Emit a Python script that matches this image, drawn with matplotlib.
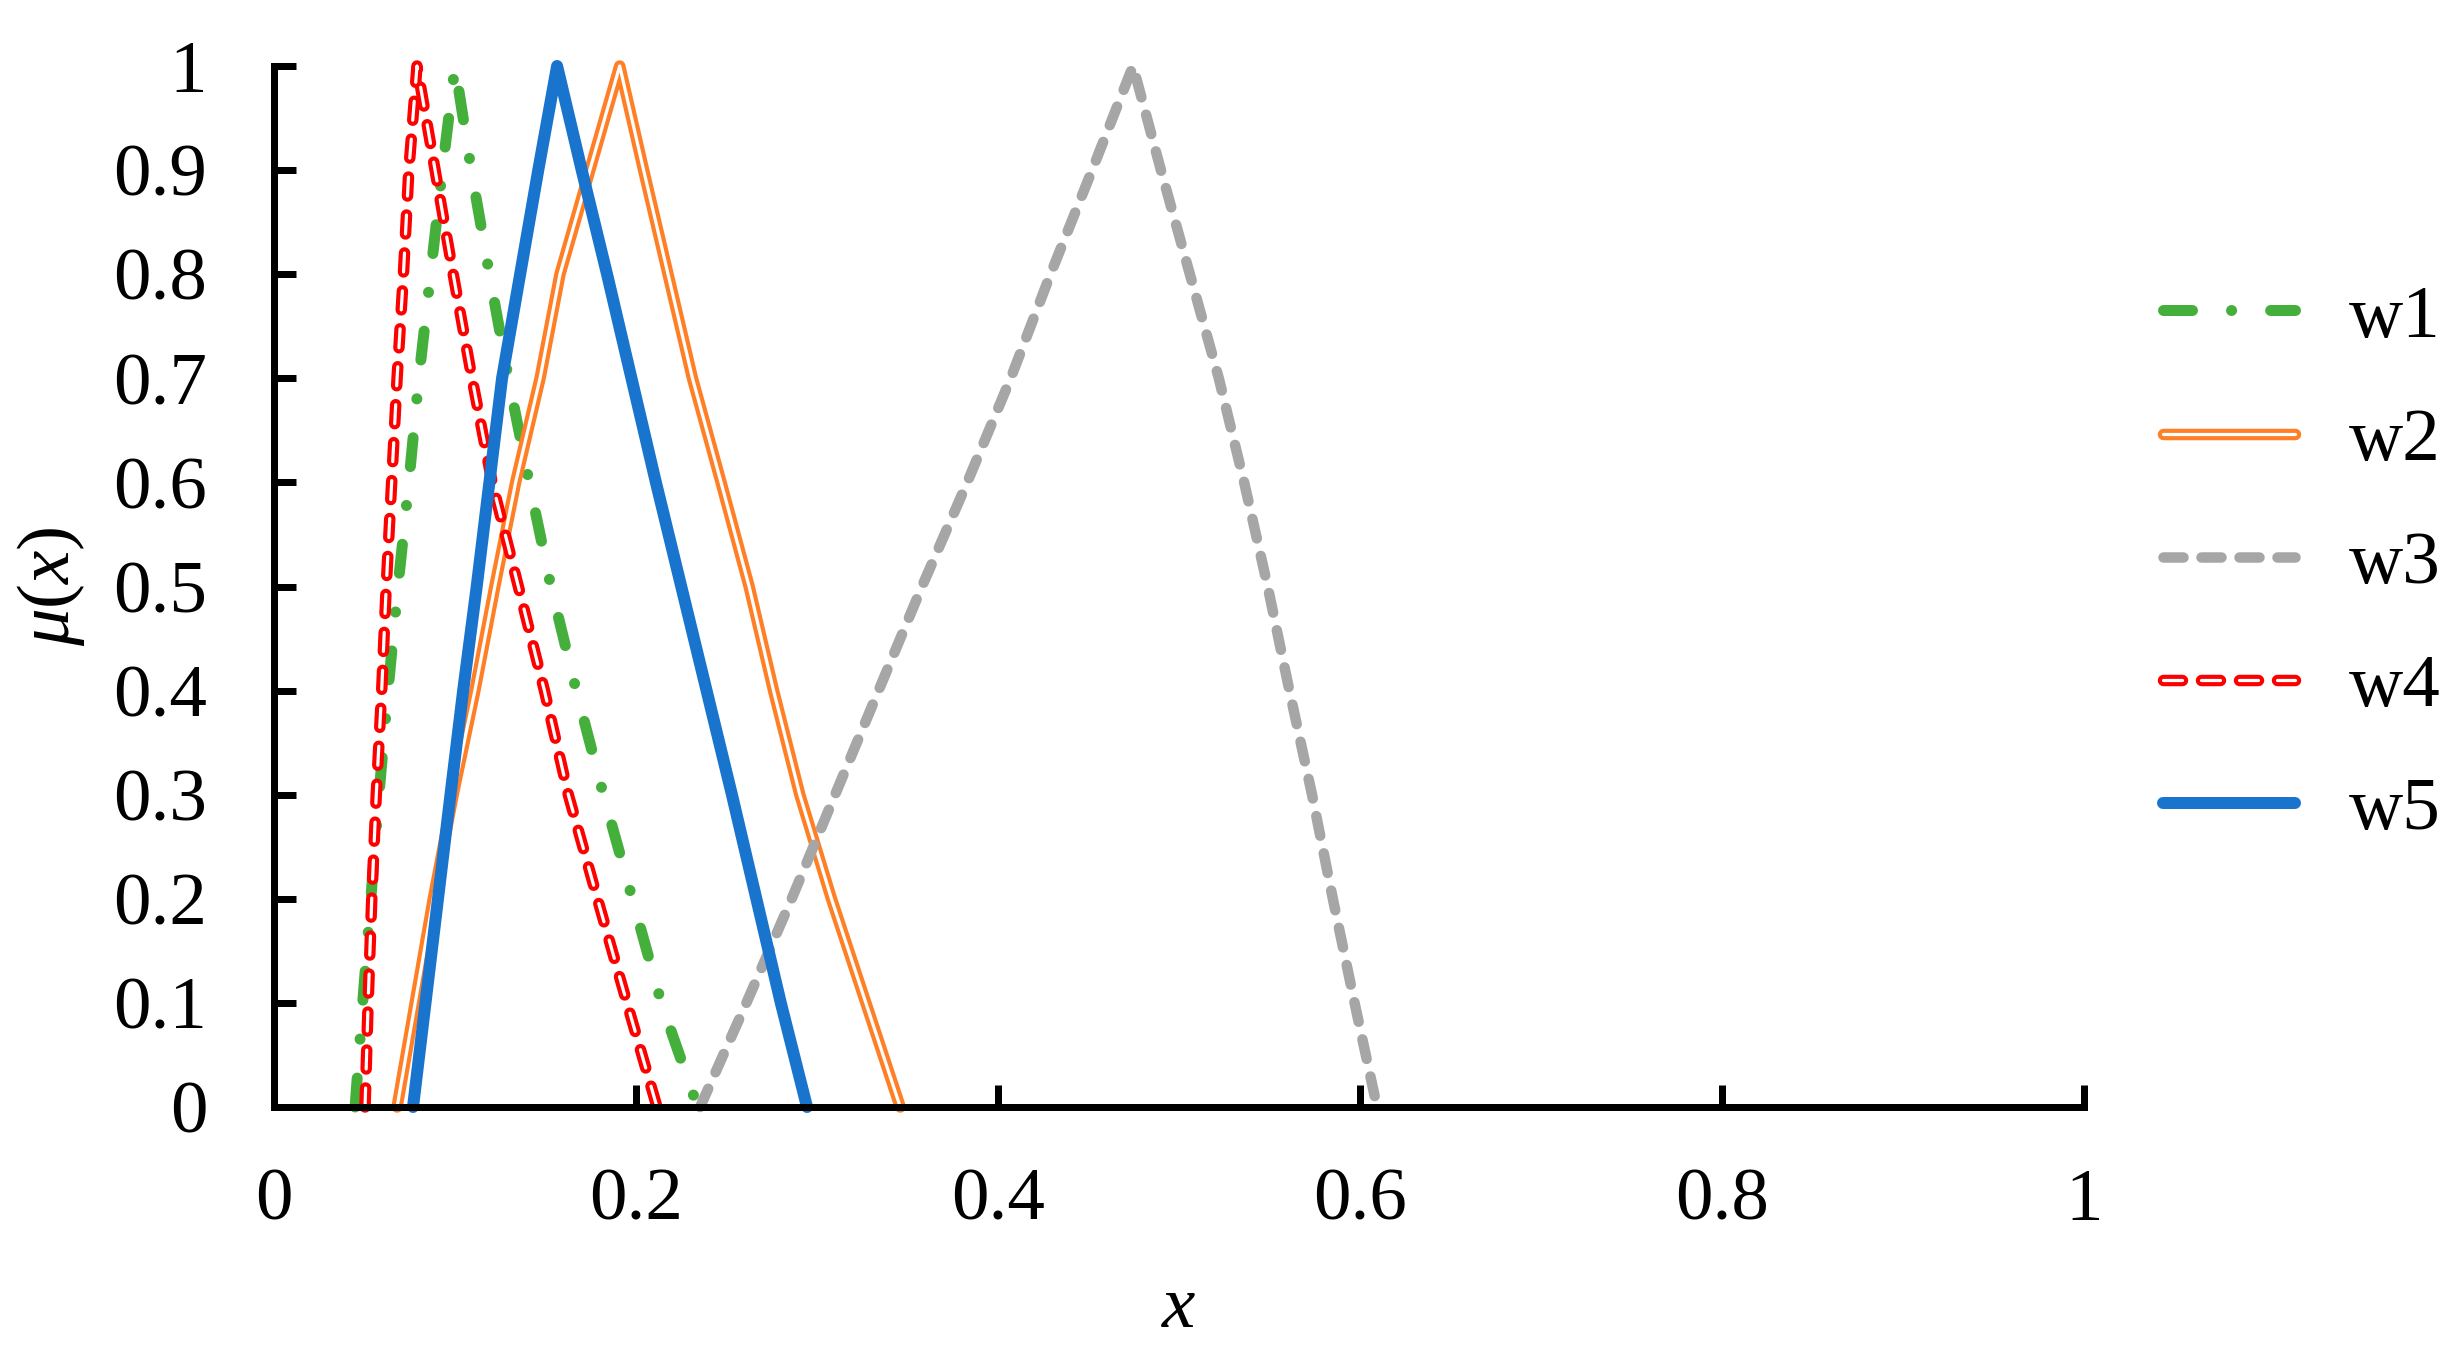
import matplotlib
matplotlib.use('Agg')
import matplotlib.pyplot as plt
from matplotlib.legend_handler import HandlerTuple

plt.rcParams['font.family'] = ['Liberation Serif', 'DejaVu Serif']
plt.rcParams['mathtext.fontset'] = 'custom'
plt.rcParams['mathtext.rm'] = 'Liberation Serif'
plt.rcParams['mathtext.it'] = 'Liberation Serif:italic'
plt.rcParams['lines.scale_dashes'] = False

# membership levels (alpha cuts), left side ascending then right side descending
mu = [0.0, 0.1, 0.2, 0.3, 0.4, 0.5, 0.6, 0.7, 0.8, 0.9, 1.0,
      0.9, 0.8, 0.7, 0.6, 0.5, 0.4, 0.3, 0.2, 0.1, 0.0]

x_w1 = [0.0448, 0.049, 0.0535, 0.058, 0.063, 0.0685, 0.0745, 0.080, 0.0865, 0.093, 0.100,
        0.109, 0.119, 0.1295, 0.141, 0.153, 0.167, 0.182, 0.198, 0.214, 0.234]
x_w2 = [0.068, 0.078, 0.088, 0.099, 0.111, 0.122, 0.1335, 0.147, 0.158, 0.1745, 0.191,
        0.2042, 0.2177, 0.2312, 0.247, 0.2625, 0.276, 0.2905, 0.308, 0.327, 0.346]
x_w3 = [0.2354, 0.261, 0.286, 0.310, 0.334, 0.358, 0.383, 0.407, 0.429, 0.452, 0.4746,
        0.490, 0.506, 0.522, 0.536, 0.549, 0.561, 0.5735, 0.585, 0.597, 0.6094]
x_w4 = [0.0503, 0.052, 0.054, 0.0565, 0.0595, 0.062, 0.065, 0.068, 0.0715, 0.0745, 0.079,
        0.089, 0.099, 0.1094, 0.1205, 0.135, 0.1494, 0.1626, 0.1787, 0.195, 0.2116]
x_w5 = [0.0768, 0.0837, 0.0906, 0.0975, 0.1045, 0.112, 0.119, 0.126, 0.136, 0.146, 0.1564,
        0.170, 0.184, 0.1975, 0.211, 0.225, 0.239, 0.253, 0.2665, 0.280, 0.2945]

series_names = ['w1', 'w2', 'w3', 'w4', 'w5']
x_ticks = [0, 0.2, 0.4, 0.6, 0.8, 1.0]
x_tick_labels = ['0', '0.2', '0.4', '0.6', '0.8', '1']
y_ticks = [0, 0.1, 0.2, 0.3, 0.4, 0.5, 0.6, 0.7, 0.8, 0.9, 1.0]
y_tick_labels = ['0', '0.1', '0.2', '0.3', '0.4', '0.5', '0.6', '0.7', '0.8', '0.9', '1']

GREEN = '#45AF3C'
ORANGE = '#FF7F27'
GREY = '#A6A6A6'
RED = '#FF0000'
BLUE = '#1874CD'

PX = 72 / 100.0  # points per pixel at dpi 100
FS = 54

fig = plt.figure(figsize=(24.62, 13.56), dpi=100)
W, H = 2462, 1356
ax = fig.add_axes([274 / W, 1 - 1107 / H, (2084 - 274) / W, (1107 - 66) / H])

common = dict(clip_on=False, solid_capstyle='round', dash_capstyle='round',
              solid_joinstyle='round', dash_joinstyle='round')

l1, = ax.plot(x_w1, mu, color=GREEN, lw=11 * PX,
              dashes=(29 * PX, 39 * PX, 0.1, 39 * PX), **common)
o_out, = ax.plot(x_w2, mu, color=ORANGE, lw=11.5 * PX, **common)
o_in, = ax.plot(x_w2, mu, color='white', lw=3.2 * PX, **common)
l3, = ax.plot(x_w3, mu, color=GREY, lw=10.5 * PX,
              dashes=(20 * PX, 18 * PX), **common)
r_out, = ax.plot(x_w4, mu, color=RED, lw=11.5 * PX,
                 dashes=(19 * PX, 19 * PX), **common)
r_in, = ax.plot(x_w4, mu, color='white', lw=3.2 * PX,
                dashes=(19 * PX, 19 * PX), **common)
l5, = ax.plot(x_w5, mu, color=BLUE, lw=12 * PX, **common)

ax.set_xlim(0, 1)
ax.set_ylim(0, 1)
for s in ['top', 'right']:
    ax.spines[s].set_visible(False)
for s in ['left', 'bottom']:
    ax.spines[s].set_linewidth(7 * PX)
    ax.spines[s].set_capstyle('projecting')

ax.set_xticks(x_ticks)
ax.set_xticklabels(x_tick_labels)
ax.set_yticks(y_ticks)
ax.set_yticklabels(y_tick_labels)
ax.tick_params(axis='both', direction='in', length=22 * PX, width=7 * PX,
               labelsize=FS)
ax.tick_params(axis='x', pad=44)
ax.tick_params(axis='y', pad=48)

ax.set_xlabel(r'$x$', fontsize=FS, labelpad=29)
ax.set_ylabel(r'$\mu(x)$', fontsize=FS, labelpad=19)

ax.legend([l1, (o_out, o_in), l3, (r_out, r_in), l5], series_names,
          handler_map={tuple: HandlerTuple(ndivide=1, pad=0)},
          loc='upper left', bbox_to_anchor=(2163 / W, 1 - 284 / H),
          bbox_transform=fig.transFigure, frameon=False, fontsize=FS,
          handlelength=1.76, handletextpad=0.72, labelspacing=0.73,
          borderpad=0, borderaxespad=0)

fig.savefig('out.png', dpi=100, facecolor='white')
